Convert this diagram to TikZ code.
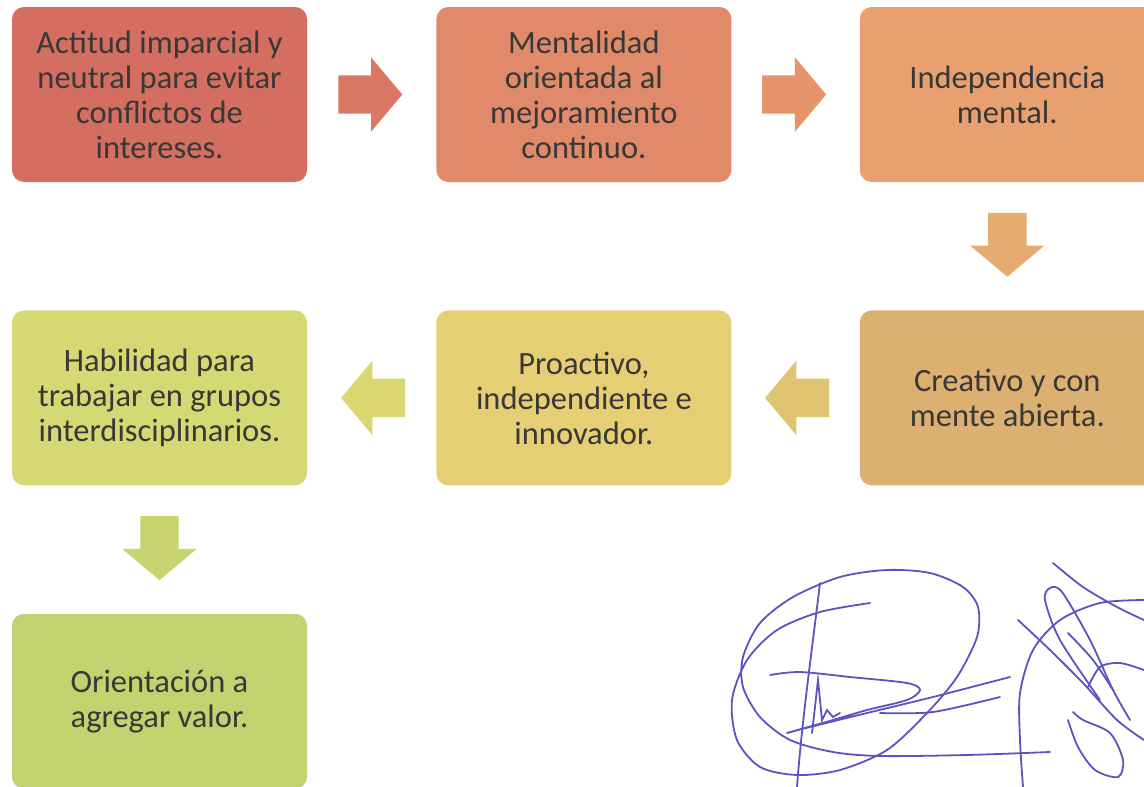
\documentclass[tikz,border=0pt]{standalone}
\usepackage{fontspec}
\setmainfont{Carlito}
\usepackage{tikz}
\usetikzlibrary{positioning}
\usetikzlibrary{calc}
\usetikzlibrary{shapes.arrows}

\definecolor{cajaA}{RGB}{212,110,96}
\definecolor{cajaB}{RGB}{224,138,106}
\definecolor{cajaC}{RGB}{232,160,112}
\definecolor{cajaD}{RGB}{220,176,112}
\definecolor{cajaE}{RGB}{230,206,116}
\definecolor{cajaF}{RGB}{214,216,116}
\definecolor{cajaG}{RGB}{194,210,110}
\definecolor{flechaA}{RGB}{218,120,100}
\definecolor{flechaB}{RGB}{230,148,108}
\definecolor{flechaC}{RGB}{228,172,112}
\definecolor{flechaD}{RGB}{222,196,112}
\definecolor{flechaE}{RGB}{218,214,112}
\definecolor{flechaF}{RGB}{200,212,112}
\definecolor{tinta}{RGB}{92,82,196}

\begin{document}
\begin{tikzpicture}[x=1pt,y=-1pt,
        caja/.style = {rectangle, rounded corners=12pt, fill=#1,
              minimum width=295pt, minimum height=175pt, inner sep=0pt,
              align=center, text=black!78,
              font=\fontsize{32.5}{35}\selectfont},
        flecha/.style = {single arrow, draw=none,
              inner xsep=0pt, inner ysep=19pt,
              minimum height=64pt, minimum width=74pt,
              single arrow head extend=18pt, single arrow tip angle=100,
              rotate=#1, xshift=-9.5pt},
        firma/.style = {draw=tinta, line width=1.8pt, line cap=round},
    ]
    \useasboundingbox (0,0) rectangle (1144,787);
    % fila de arriba
    \node[caja=cajaA] (actitud) at (159.5,94.5) {Actitud imparcial y\\neutral para evitar\\conflictos de\\intereses.};
    \node[caja=cajaB, right=129pt of actitud] (mentalidad) {Mentalidad\\orientada al\\mejoramiento\\continuo.};
    \node[caja=cajaC, right=128pt of mentalidad] (independencia) {Independencia\\mental.};
    % fila del medio
    \node[caja=cajaD, below=128pt of independencia] (creativo) {Creativo y con\\mente abierta.};
    \node[caja=cajaE, left=128pt of creativo] (proactivo) {Proactivo,\\independiente e\\innovador.};
    \node[caja=cajaF, left=129pt of proactivo] (habilidad) {Habilidad para\\trabajar en grupos\\interdisciplinarios.};
    % abajo
    \node[caja=cajaG, below=128pt of habilidad] (orientacion) {Orientación a\\agregar valor.};
    % flechas
    \node[flecha=0, fill=flechaA] (f1) at ($(actitud.east)!0.5!(mentalidad.west)$) {};
    \node[flecha=0, fill=flechaB] (f2) at ($(mentalidad.east)!0.5!(independencia.west)$) {};
    \node[flecha=-90, fill=flechaC] (f3) at ($(independencia.south)!0.5!(creativo.north)$) {};
    \node[flecha=180, fill=flechaD] (f4) at ($(creativo.west)!0.5!(proactivo.east)$) {};
    \node[flecha=180, fill=flechaE] (f5) at ($(proactivo.west)!0.5!(habilidad.east)$) {};
    \node[flecha=-90, fill=flechaF] (f6) at ($(habilidad.south)!0.5!(orientacion.north)$) {};
    % firma
    \draw[firma] plot[smooth] coordinates {(870,603) (820,612) (777,630) (747,660) (732,700) (737,740) (760,767) (797,775) (840,770) (887,750) (927,713) (957,677) (977,637) (978,607) (963,587) (930,573) (887,570) (840,577) (793,597) (760,623) (743,657) (743,687) (760,717) (790,740) (833,752) (880,756) (967,755) (1050,752)};
    \draw[firma] (820,583) .. controls (812,650) and (802,720) .. (797,787);
    \draw[firma] plot[smooth] coordinates {(770,675) (800,672) (850,677) (907,683) (920,690) (907,700) (867,710) (833,720) (787,733) (810,727) (867,713) (933,697) (1010,677)};
    \draw[firma] plot[smooth] coordinates {(880,713) (933,712) (1000,697)};
    \draw[firma] plot coordinates {(812,733) (815,707) (818,680) (822,720) (827,710) (833,717) (840,713)};
    \draw[firma] plot[smooth] coordinates {(1053,563) (1083,587) (1117,607) (1144,620)};
    \draw[firma] plot[smooth] coordinates {(1018,620) (1050,650) (1083,683) (1117,720) (1144,740)};
    \draw[firma] plot[smooth] coordinates {(1144,600) (1100,603) (1060,620) (1033,650) (1020,693) (1020,740) (1023,787)};
    \draw[firma] plot[smooth] coordinates {(1068,720) (1078,747) (1095,770) (1118,777) (1123,760) (1110,733) (1083,720) (1073,712)};
    \draw[firma] plot[smooth] coordinates {(1088,687) (1100,667) (1120,663) (1144,670)};
    \draw[firma] plot[smooth] coordinates {(1100,700) (1060,640) (1045,600) (1050,588) (1062,592) (1090,640) (1113,690) (1130,720)};
    \draw[firma] plot[smooth] coordinates {(1068,633) (1093,660) (1113,690)};
\end{tikzpicture}
\end{document}
